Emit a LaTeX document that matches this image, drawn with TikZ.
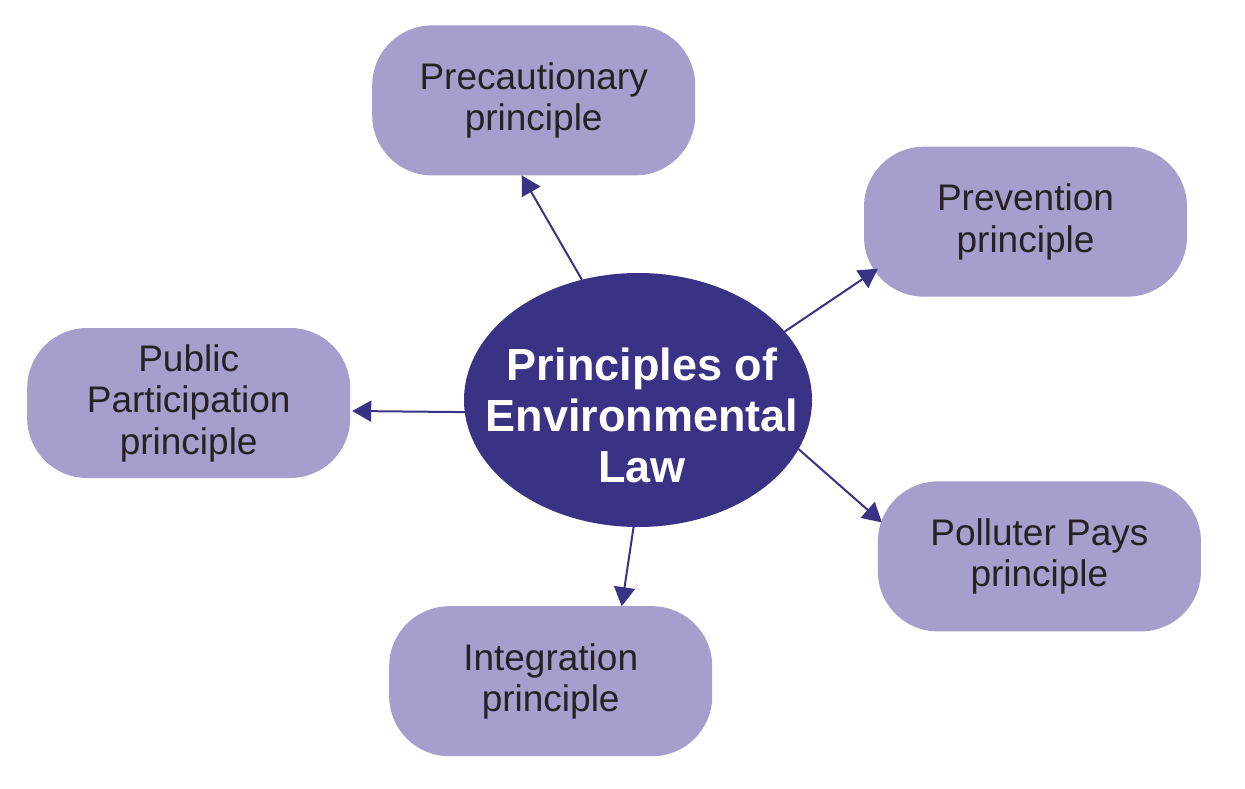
\documentclass[tikz,border=0pt]{standalone}
\usepackage{fontspec}
\setmainfont{Liberation Sans}
\usetikzlibrary{arrows.meta,calc,shapes.geometric}
\definecolor{navy}{RGB}{58,51,133}
\definecolor{lav}{RGB}{166,158,204}
\definecolor{txt}{RGB}{38,34,36}
\begin{document}
\begin{tikzpicture}[x=1pt,y=-1pt,
  box/.style={rectangle, rounded corners=60pt, fill=lav, minimum width=323pt, minimum height=150pt,
    inner sep=0pt, outer sep=0pt, align=center, text=txt, font=\fontsize{37}{41.5}\selectfont},
  hub/.style={ellipse, fill=navy, minimum width=348pt, minimum height=254pt, inner sep=0pt, outer sep=0pt},
  hubtext/.style={inner sep=0pt, align=center, text=white, font=\bfseries\fontsize{45}{51}\selectfont},
  link/.style={draw=navy, line width=2pt, -{Triangle[length=19pt,width=21pt]}}
]
\useasboundingbox (0,0) rectangle (1245,789);
\fill[white] (0,0) rectangle (1245,789);

\node[hub] (c) at (638,400) {};
\node[hubtext] (ct) at (642,415) {Principles of\\Environmental\\Law};

\node[box] (p1) at (533.7,100.4) {Precautionary\\principle};
\node[box] (p2) at (1025.5,221.7) {Prevention\\principle};
\node[box] (p3) at (188.7,403) {Public\\Participation\\principle};
\node[box] (p4) at (1039.4,556.4) {Polluter Pays\\principle};
\node[box] (p5) at (550.7,681.2) {Integration\\principle};

\draw[link] (c.115) -- ($(p1.south)+(-12,0)$);
\draw[link] (c.25) -- ($(p2.south west)+(14,-28)$);
\draw[link] (c.184) -- ($(p3.east)+(2,8)$);
\draw[link] (c.-17) -- ($(p4.north west)+(4,41)$);
\draw[link] (c.268) -- ($(p5.north)+(71,0)$);
\end{tikzpicture}
\end{document}
